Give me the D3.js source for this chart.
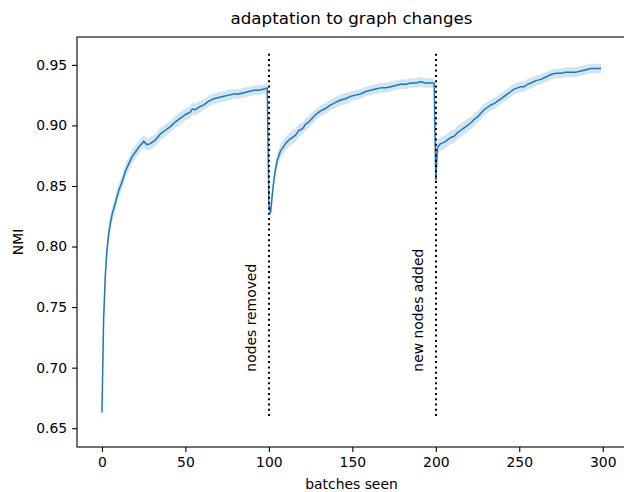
<!DOCTYPE html>
<html>
<head>
<meta charset="utf-8">
<title>adaptation to graph changes</title>
<script src="https://cdn.jsdelivr.net/npm/d3@7"></script>
<style>
  body { margin: 0; background: #fff; }
  svg { display: block; font-family: "DejaVu Sans", sans-serif; }
</style>
</head>
<body>
<div id="chart"></div>
<script>
// batches seen (x), mean NMI and half width of the shaded band
var batches = [
  0, 1, 2, 3, 4, 5, 6, 7, 8, 10, 12, 14, 16, 18, 20, 22, 24, 25, 27, 29, 32, 35, 38, 41, 44,
  47, 50, 53, 54, 56, 58, 61, 64, 67, 70, 73, 76, 79, 82, 85, 88, 91, 94, 97, 99,
  100, 101, 102, 103, 104, 105, 107, 110, 112, 114, 116, 118, 120, 122, 124, 126, 128, 131,
  134, 137, 140, 143, 146, 149, 152, 155, 158, 161, 164, 167, 170, 173, 176, 179, 182, 185,
  188, 191, 194, 197, 199,
  200, 201, 203, 205, 207, 209, 211, 213, 215, 217, 219, 221, 223, 225, 227, 229, 231, 233,
  235, 237, 239, 241, 243, 245, 247, 249, 251, 253, 255, 257, 260, 263, 266, 269, 272, 275,
  278, 281, 284, 287, 290, 293, 296, 299
];
var nmiMean = [
  0.663, 0.740, 0.776, 0.797, 0.810, 0.819, 0.826, 0.831, 0.836, 0.846, 0.853, 0.862, 0.868,
  0.874, 0.878, 0.882, 0.885, 0.887, 0.884, 0.885, 0.888, 0.893, 0.896, 0.899, 0.903, 0.906,
  0.909, 0.911, 0.9135, 0.913, 0.915, 0.917, 0.920, 0.922, 0.923, 0.924, 0.925, 0.926, 0.926,
  0.927, 0.928, 0.929, 0.929, 0.930, 0.931,
  0.834, 0.828, 0.842, 0.855, 0.864, 0.871, 0.879, 0.885, 0.888, 0.890, 0.892, 0.896, 0.897,
  0.901, 0.903, 0.906, 0.909, 0.912, 0.914, 0.917, 0.919, 0.921, 0.922, 0.924, 0.925, 0.926,
  0.928, 0.929, 0.930, 0.931, 0.931, 0.932, 0.933, 0.934, 0.934, 0.935, 0.935, 0.936, 0.935,
  0.935, 0.935,
  0.855, 0.882, 0.885, 0.886, 0.888, 0.890, 0.891, 0.894, 0.896, 0.898, 0.900, 0.902, 0.905,
  0.907, 0.910, 0.913, 0.915, 0.917, 0.918, 0.920, 0.922, 0.924, 0.926, 0.928, 0.930, 0.931,
  0.932, 0.932, 0.934, 0.935, 0.937, 0.938, 0.940, 0.942, 0.943, 0.943, 0.944, 0.944, 0.944,
  0.945, 0.946, 0.947, 0.947, 0.947
];
var nmiSpread = [
  0.013, 0.009, 0.008, 0.007, 0.007, 0.007, 0.006, 0.006, 0.006, 0.006, 0.006, 0.0055, 0.0055,
  0.0055, 0.0055, 0.005, 0.005, 0.005, 0.005, 0.005, 0.005, 0.005, 0.005, 0.005, 0.005, 0.005,
  0.005, 0.005, 0.005, 0.005, 0.005, 0.0045, 0.0045, 0.0045, 0.0045, 0.0045, 0.0045, 0.004,
  0.004, 0.004, 0.004, 0.004, 0.004, 0.004, 0.004,
  0.005, 0.006, 0.006, 0.006, 0.006, 0.0055, 0.0055, 0.0055, 0.0055, 0.0055, 0.0055, 0.0055,
  0.005, 0.005, 0.005, 0.005, 0.0045, 0.0045, 0.0045, 0.0045, 0.0045, 0.0045, 0.0045, 0.004,
  0.004, 0.004, 0.004, 0.004, 0.004, 0.004, 0.004, 0.004, 0.004, 0.004, 0.004, 0.004, 0.004,
  0.004, 0.004, 0.004, 0.004,
  0.007, 0.006, 0.0055, 0.0055, 0.0055, 0.0055, 0.0055, 0.0055, 0.0055, 0.0055, 0.0055, 0.005,
  0.005, 0.005, 0.005, 0.005, 0.0045, 0.0045, 0.0045, 0.0045, 0.0045, 0.0045, 0.0045, 0.0045,
  0.0045, 0.0045, 0.0045, 0.0045, 0.0045, 0.0045, 0.004, 0.004, 0.004, 0.004, 0.004, 0.004,
  0.004, 0.004, 0.004, 0.004, 0.004, 0.004, 0.004, 0.004
];

// graph change events
var events = [100, 200];
var eventLabels = ["nodes removed", "new nodes added"];
var eventLabelX = [86, 186];

var xTicks = [0, 50, 100, 150, 200, 250, 300];
var yTicks = [0.65, 0.70, 0.75, 0.80, 0.85, 0.90, 0.95];

var width = 624, height = 492;
// plot box; the right edge falls just outside the picture
var box = { left: 77, right: 626, top: 37, bottom: 447 };

var svg = d3.select("#chart").append("svg")
  .attr("width", width)
  .attr("height", height);

var x = d3.scaleLinear().domain([-14.95, 313.95]).range([box.left, box.right]);
var y = d3.scaleLinear().domain([0.6345, 0.973]).range([box.bottom, box.top]);

var data = batches.map(function (b, i) {
  return { b: b, m: nmiMean[i], s: nmiSpread[i] };
});

var band = d3.area()
  .x(function (d) { return x(d.b); })
  .y0(function (d) { return y(d.m - d.s); })
  .y1(function (d) { return y(d.m + d.s); });

var line = d3.line()
  .x(function (d) { return x(d.b); })
  .y(function (d) { return y(d.m); });

svg.append("path")
  .datum(data)
  .attr("d", band)
  .attr("fill", "#1f77b4")
  .attr("fill-opacity", 0.2)
  .attr("stroke", "none");

svg.append("path")
  .datum(data)
  .attr("d", line)
  .attr("fill", "none")
  .attr("stroke", "#1f77b4")
  .attr("stroke-width", 1.5)
  .attr("stroke-linejoin", "round");

svg.selectAll(".vline").data(events).enter().append("line")
  .attr("class", "vline")
  .attr("x1", function (d) { return Math.round(x(d)); })
  .attr("x2", function (d) { return Math.round(x(d)); })
  .attr("y1", y(0.66))
  .attr("y2", y(0.96))
  .attr("stroke", "#000")
  .attr("stroke-width", 2)
  .attr("stroke-dasharray", "2,3.3");

svg.selectAll(".evlabel").data(eventLabels).enter().append("text")
  .attr("class", "evlabel")
  .attr("transform", function (d, i) {
    return "translate(" + (x(eventLabelX[i]) + 10.8) + "," + (y(0.70) + 4) + ") rotate(-90)";
  })
  .attr("font-size", "13.9px")
  .attr("fill", "#000")
  .text(function (d) { return d; });

// axes
var xAxis = d3.axisBottom(x).tickValues(xTicks).tickSize(4.9).tickPadding(4.9)
  .tickFormat(d3.format("d"));
var yAxis = d3.axisLeft(y).tickValues(yTicks).tickSize(4.9).tickPadding(4.9)
  .tickFormat(d3.format(".2f"));

var gx = svg.append("g").attr("transform", "translate(0," + box.bottom + ")").call(xAxis);
var gy = svg.append("g").attr("transform", "translate(" + box.left + ",0)").call(yAxis);

[gx, gy].forEach(function (g) {
  g.select(".domain").remove();
  g.selectAll(".tick line").attr("stroke", "#000").attr("stroke-width", 1.1);
  g.selectAll(".tick text").attr("fill", "#000")
    .attr("font-size", "13.9px").attr("font-family", "DejaVu Sans");
});

svg.append("rect")
  .attr("x", box.left).attr("y", box.top)
  .attr("width", box.right - box.left).attr("height", box.bottom - box.top)
  .attr("fill", "none")
  .attr("stroke", "#000")
  .attr("stroke-width", 1.1);

svg.append("text")
  .attr("x", (box.left + box.right) / 2).attr("y", 24)
  .attr("text-anchor", "middle")
  .attr("font-size", "16.7px")
  .text("adaptation to graph changes");

svg.append("text")
  .attr("x", (box.left + box.right) / 2).attr("y", 489)
  .attr("text-anchor", "middle")
  .attr("font-size", "13.9px")
  .text("batches seen");

svg.append("text")
  .attr("transform", "translate(23," + ((box.top + box.bottom) / 2) + ") rotate(-90)")
  .attr("text-anchor", "middle")
  .attr("font-size", "13.9px")
  .text("NMI");
</script>
</body>
</html>
